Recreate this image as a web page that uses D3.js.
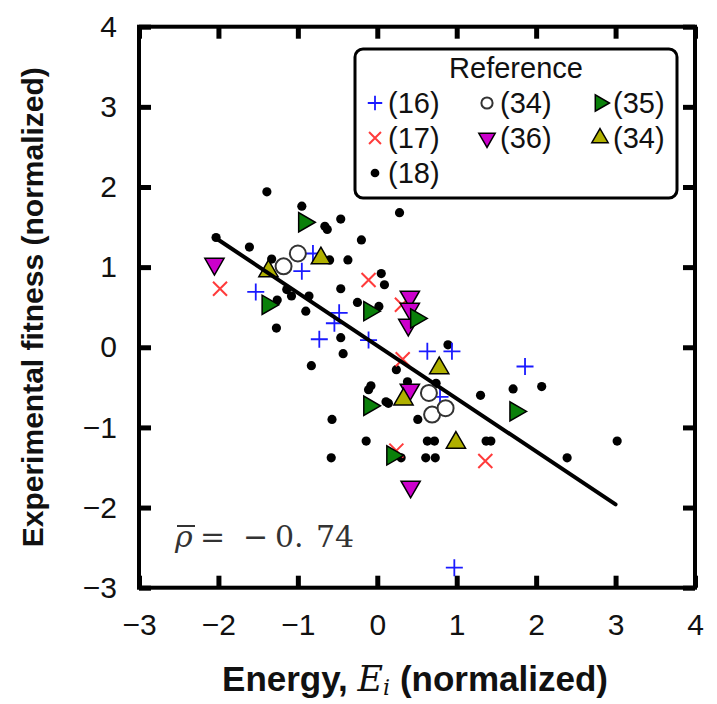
<!DOCTYPE html>
<html>
<head>
<meta charset="utf-8">
<script src="https://cdn.jsdelivr.net/npm/d3@7"></script>
<style>
  body { margin: 0; background: #fff; }
  text { font-family: "Liberation Sans", Arial, sans-serif; }
</style>
</head>
<body>
<div id="chart"></div>
<script>
// Data, one array per reference group
var ref16 = [[-0.81,1.17],[-0.95,0.95],[-1.53,0.69],[-0.48,0.43],[-0.54,0.30],[-0.73,0.10],[-0.11,0.09],[0.63,-0.05],[0.94,-0.05],[1.86,-0.24],[0.79,-0.62],[0.97,-2.75]];
var ref17 = [[-1.98,0.73],[-0.11,0.84],[0.31,0.53],[0.32,-0.15],[0.24,-1.29],[1.36,-1.42]];
var ref18 = [[-2.03,1.37],[-1.39,1.94],[-0.95,1.76],[-0.66,1.51],[-0.63,1.47],[-0.46,1.60],[0.28,1.68],[-0.20,1.34],
  [-1.61,1.25],[-1.33,1.10],[-0.60,1.09],[-0.37,1.09],[0.05,0.92],[0.09,0.78],[-1.14,0.72],[-1.08,0.64],[-0.86,0.64],
  [-0.46,0.73],[-1.26,0.59],[-0.90,0.45],[-0.25,0.56],[0.02,0.51],[-1.27,0.24],[-0.46,0.12],[-0.43,-0.08],[-0.83,-0.23],
  [0.24,-0.28],[0.89,0.03],[1.30,-0.60],[1.71,-0.52],[2.07,-0.49],[-0.11,-0.53],[-0.08,-0.48],[0.38,-0.43],[0.74,-0.45],
  [0.11,-0.68],[0.14,-0.70],[0.51,-0.90],[-0.57,-0.90],[-0.14,-1.17],[0.63,-1.17],[0.72,-1.17],[1.37,-1.17],[1.43,-1.17],
  [-0.58,-1.38],[0.30,-1.38],[0.61,-1.38],[0.73,-1.38],[3.02,-1.17],[2.39,-1.38]];
var ref34circ = [[-1.18,1.01],[-1.00,1.17],[0.65,-0.57],[0.69,-0.84],[0.86,-0.76]];
var ref36 = [[-2.05,1.04],[0.41,0.63],[0.41,0.48],[0.39,0.28],[0.41,-0.53],[0.42,-1.74]];
var ref35 = [[-0.92,1.56],[-1.38,0.53],[-0.10,0.45],[0.49,0.36],[-0.10,-0.73],[0.19,-1.35],[1.74,-0.80]];
var ref34tri = [[-1.37,0.95],[-0.71,1.11],[0.78,-0.26],[0.33,-0.65],[0.99,-1.19]];

// fit line end points
var fitLine = [[-2.03,1.36],[3.0,-1.96]];

var xTicks = [-3,-2,-1,0,1,2,3,4];
var yTicks = [-3,-2,-1,0,1,2,3,4];
var legendRows = [
  ["plus","(16)"],["circle","(34)"],["right","(35)"],
  ["cross","(17)"],["down","(36)"],["up","(34)"],
  ["dot","(18)"]
];

var W = 717, H = 704;
var svg = d3.select("#chart").append("svg")
  .attr("width", W).attr("height", H);

var x = d3.scaleLinear().domain([-3, 4]).range([139, 695]);
var y = d3.scaleLinear().domain([-3, 4]).range([587.7, 26.7]);

var fmt = function (d) { return d < 0 ? "\u2212" + Math.abs(d) : d; };

// Axes with inward ticks
var axB = svg.append("g").attr("transform", "translate(0," + y(-3) + ")")
  .call(d3.axisBottom(x).tickValues(xTicks).tickSizeInner(-12).tickSizeOuter(0).tickPadding(26).tickFormat(fmt));
var axT = svg.append("g").attr("transform", "translate(0," + y(4) + ")")
  .call(d3.axisTop(x).tickValues(xTicks).tickSizeInner(-12).tickSizeOuter(0).tickFormat(""));
var axL = svg.append("g").attr("transform", "translate(" + x(-3) + ",0)")
  .call(d3.axisLeft(y).tickValues(yTicks).tickSizeInner(-12).tickSizeOuter(0).tickPadding(22).tickFormat(fmt));
var axR = svg.append("g").attr("transform", "translate(" + x(4) + ",0)")
  .call(d3.axisRight(y).tickValues(yTicks).tickSizeInner(-12).tickSizeOuter(0).tickFormat(""));

[axB, axT, axL, axR].forEach(function (g) {
  g.select(".domain").remove();
  g.selectAll(".tick line").attr("stroke", "#000").attr("stroke-width", 5);
  g.selectAll("text").attr("font-size", 30).attr("fill", "#111")
    .style("font-family", "'Liberation Sans', Arial, sans-serif");
});

// Frame
svg.append("rect")
  .attr("x", x(-3)).attr("y", y(4))
  .attr("width", x(4) - x(-3)).attr("height", y(-3) - y(4))
  .attr("fill", "none").attr("stroke", "#000").attr("stroke-width", 4);

// marker drawing helpers
var colors = { plus: "#1a1aff", cross: "#ff3b3b", dot: "#000", circle: "#333",
  down: "#cc00cc", right: "#0a800a", up: "#b0b000" };

function drawMarker(g, type, cx, cy, s) {
  if (type === "plus") {
    var a = 8.5 * s;
    g.append("path").attr("d", "M" + (cx - a) + "," + cy + "H" + (cx + a) + "M" + cx + "," + (cy - a) + "V" + (cy + a))
      .attr("stroke", colors.plus).attr("stroke-width", 1.8).attr("fill", "none");
  } else if (type === "cross") {
    var b = 7 * s;
    g.append("path").attr("d", "M" + (cx - b) + "," + (cy - b) + "L" + (cx + b) + "," + (cy + b) + "M" + (cx - b) + "," + (cy + b) + "L" + (cx + b) + "," + (cy - b))
      .attr("stroke", colors.cross).attr("stroke-width", 2).attr("fill", "none");
  } else if (type === "dot") {
    g.append("circle").attr("cx", cx).attr("cy", cy).attr("r", 4.6 * s).attr("fill", "#000");
  } else if (type === "circle") {
    g.append("circle").attr("cx", cx).attr("cy", cy).attr("r", 8 * s)
      .attr("fill", "#fff").attr("stroke", colors.circle).attr("stroke-width", 2);
  } else {
    var rot = { up: 0, right: 90, down: 180 }[type];
    g.append("path")
      .attr("d", d3.symbol().type(d3.symbolTriangle).size(160 * s * s)())
      .attr("transform", "translate(" + cx + "," + cy + ") rotate(" + rot + ")")
      .attr("fill", colors[type]).attr("stroke", "#000").attr("stroke-width", 1.5);
  }
}

var pts = svg.append("g");
[[ref18, "dot"], [ref16, "plus"], [ref17, "cross"], [ref34circ, "circle"],
 [ref36, "down"], [ref35, "right"], [ref34tri, "up"]].forEach(function (s) {
  s[0].forEach(function (d) { drawMarker(pts, s[1], x(d[0]), y(d[1]), 1); });
});

// Regression line
svg.append("line")
  .attr("x1", x(fitLine[0][0])).attr("y1", y(fitLine[0][1]))
  .attr("x2", x(fitLine[1][0])).attr("y2", y(fitLine[1][1]))
  .attr("stroke", "#000").attr("stroke-width", 4).attr("stroke-linecap", "round");

// Legend
var leg = svg.append("g");
leg.append("rect").attr("x", 355).attr("y", 49).attr("width", 322).attr("height", 149)
  .attr("rx", 8).attr("fill", "#fff").attr("stroke", "#000").attr("stroke-width", 3);
leg.append("text").attr("x", 516).attr("y", 78).attr("text-anchor", "middle")
  .attr("font-size", 29).attr("fill", "#111").text("Reference");
var colX = [375, 487, 600], rowY = [103, 138, 173];
legendRows.forEach(function (r, i) {
  var cx = colX[i % 3], cy = rowY[Math.floor(i / 3)];
  drawMarker(leg, r[0], cx, cy, r[0] === "circle" ? 0.7 : (r[0] === "dot" ? 0.95 : 0.85));
  leg.append("text").attr("x", cx + 13).attr("y", cy + 10)
    .attr("font-size", 29).attr("fill", "#111").text(r[1]);
});

// Correlation annotation
var rho = svg.append("g").attr("fill", "#333");
var rhoParts = [["\u03c1", 175, "italic"], ["=", 200, "normal"], ["\u2212", 243, "normal"],
  ["0.", 275, "normal"], ["74", 316, "normal"]];
rhoParts.forEach(function (p) {
  rho.append("text").attr("x", p[1]).attr("y", 547).attr("font-size", 30)
    .attr("font-style", p[2]).style("font-family", "'DejaVu Serif', serif").text(p[0]);
});
rho.append("line").attr("x1", 177).attr("x2", 195).attr("y1", 526).attr("y2", 526)
  .attr("stroke", "#333").attr("stroke-width", 2);

// Axis titles
var xl = svg.append("text").attr("x", 415).attr("y", 691).attr("text-anchor", "middle")
  .attr("font-size", 35).attr("font-weight", "bold").attr("fill", "#111");
xl.append("tspan").text("Energy, ");
xl.append("tspan").style("font-family", "'DejaVu Serif', serif").attr("font-style", "italic")
  .attr("font-weight", "normal").text("E");
xl.append("tspan").style("font-family", "'DejaVu Serif', serif").attr("font-style", "italic")
  .attr("font-weight", "normal").attr("font-size", 22).attr("dy", 4).text("i");
xl.append("tspan").attr("dy", -4).text(" (normalized)");

svg.append("text")
  .attr("transform", "translate(43," + ((y(4) + y(-3)) / 2) + ") rotate(-90)")
  .attr("text-anchor", "middle").attr("font-size", 30).attr("font-weight", "bold").attr("fill", "#111")
  .text("Experimental fitness (normalized)");
</script>
</body>
</html>
